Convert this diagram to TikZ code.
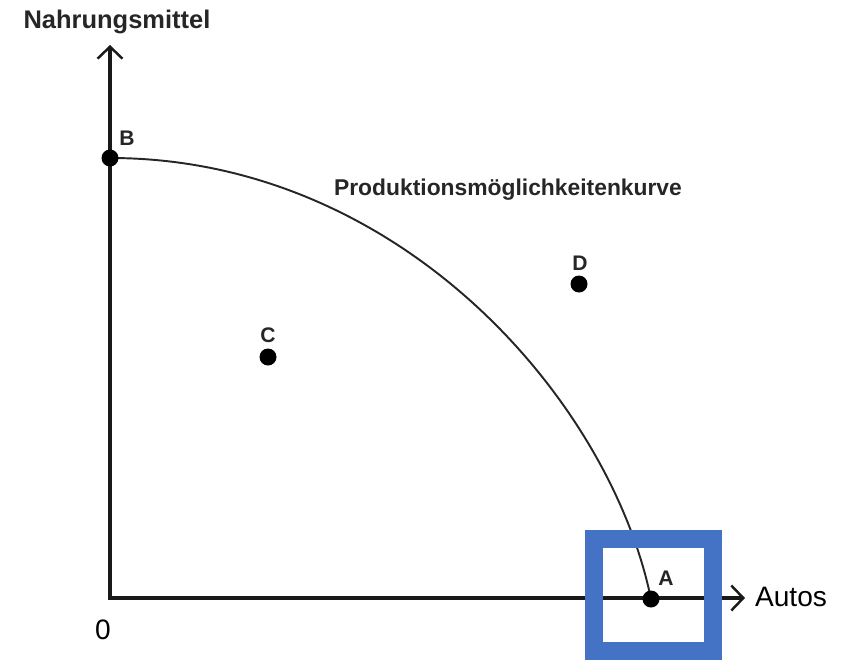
\documentclass[tikz,border=0pt]{standalone}
\usepackage{fontspec}
\setmainfont{Liberation Sans}
\usetikzlibrary{arrows.meta}
\definecolor{frameblue}{HTML}{4472C4}
\begin{document}
\begin{tikzpicture}[
  x=0.02cm, y=-0.02cm,
  axis/.style={line width=1.8pt, draw=black!90,
               {Straight Barb[length=2.4mm,width=5mm,line width=1.4pt]}-{Straight Barb[length=2.4mm,width=5mm,line width=1.4pt]}},
  curve/.style={line width=1.1pt, draw=black!85},
  dot/.style={circle, fill=black, inner sep=0pt, minimum size=3.4mm},
  lbl/.style={font=\fontsize{12}{14}\selectfont\bfseries, text=black!85},
  ax/.style={font=\fontsize{16}{19}\selectfont, text=black},
  ttl/.style={font=\fontsize{13}{16}\selectfont\bfseries, text=black!85},
  frame/.style={draw=frameblue, line width=0.36cm},
]
\useasboundingbox (0,0) rectangle (848,660);

% ---- axes ----
\coordinate (O)    at (110,598);
\coordinate (ytop) at (110,45);
\coordinate (xend) at (745,598);
\draw[axis] (ytop) -- (O) -- (xend);

\node[font=\fontsize{14.5}{17}\selectfont\bfseries, text=black!85] (ylab) at (117,22) {Nahrungsmittel};
\node[ax] (xlab) at (791,597) {Autos};
\node[ax] (zero) at (103,630) {0};

% ---- curve ----
\coordinate (pB) at (110,158);
\coordinate (pA) at (651,599);
\draw[curve] (pB) .. controls (400,158) and (610,400) .. (pA);
\node[ttl] (pmk) at (508,190) {Produktionsmöglichkeitenkurve};

% ---- points ----
\node[dot] (B) at (pB) {};
\node[dot] (A) at (pA) {};
\node[dot] (C) at (268,357) {};
\node[dot] (D) at (579,284) {};
\node[lbl] (Blab) at (127,138) {B};
\node[lbl] (Alab) at (666,578) {A};
\node[lbl] (Clab) at (268,335) {C};
\node[lbl] (Dlab) at (580,263) {D};

% ---- highlight frame ----
\draw[frame] (594,539) rectangle (713,651);
\end{tikzpicture}
\end{document}
